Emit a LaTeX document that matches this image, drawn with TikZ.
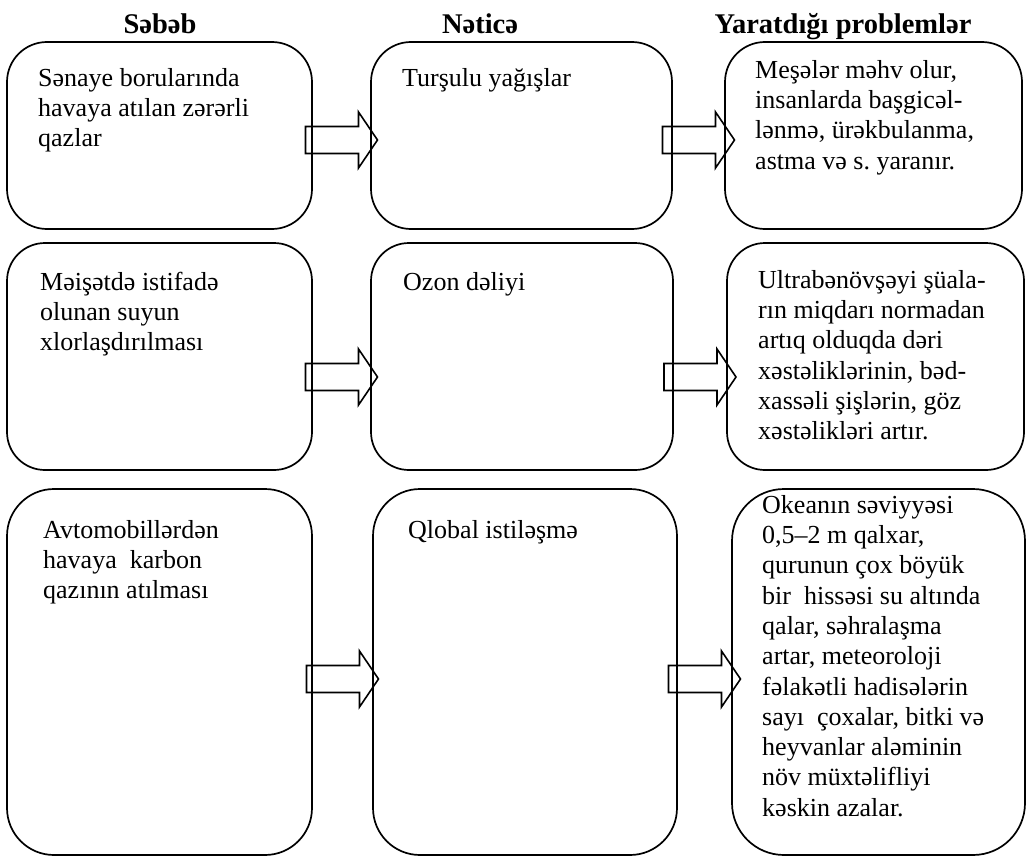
\documentclass[tikz,border=0pt]{standalone}
\usepackage{fontspec}
\setmainfont{Liberation Serif}
\usetikzlibrary{calc}
\frenchspacing
\newcommand\blockarrow[3]{%
  \draw[barrow] let \p1=(#1.east), \p2=(#2.west), \n1={(\x1+\x2)/2}, \n2={-#3pt} in
   (\n1-36pt,\n2+13.5pt) -- (\n1+17pt,\n2+13.5pt) -- (\n1+17pt,\n2+28pt) -- (\n1+36pt,\n2)
   -- (\n1+17pt,\n2-28pt) -- (\n1+17pt,\n2-13.5pt) -- (\n1-36pt,\n2-13.5pt) -- cycle;}
\begin{document}
\begin{tikzpicture}[x=1pt,y=-1pt,
  box/.style={draw, line width=1.7pt, rounded corners=#1, inner sep=0pt},
  barrow/.style={draw, line width=1.6pt, line join=miter},
  txt/.style={anchor=north west, inner sep=0pt, align=left, font=\fontsize{26pt}{30.3pt}\selectfont\frenchspacing},
  hdr/.style={anchor=base, inner sep=0pt, font=\fontsize{28.5pt}{32pt}\selectfont\bfseries}]
\useasboundingbox (0,0) rectangle (1027,856);
% headers
\node[hdr] (h1) at (160,34) {Səbəb};
\node[hdr] (h2) at (480,34) {Nəticə};
\node[hdr] (h3) at (843,34) {Yaratdığı problemlər};
% boxes row 1
\node[box=40pt, minimum width=305pt, minimum height=187pt] (b11) at (159.5,135.5) {};
\node[box=40pt, minimum width=301pt, minimum height=187pt] (b12) at (521.5,135.5) {};
\node[box=40pt, minimum width=297pt, minimum height=187pt] (b13) at (873.5,135.5) {};
% boxes row 2
\node[box=38pt, minimum width=305pt, minimum height=227pt] (b21) at (159.5,356.5) {};
\node[box=38pt, minimum width=302pt, minimum height=227pt] (b22) at (522,356.5) {};
\node[box=38pt, minimum width=297pt, minimum height=227pt] (b23) at (875.5,356.5) {};
% boxes row 3
\node[box=47pt, minimum width=305pt, minimum height=366pt] (b31) at (159.5,672) {};
\node[box=47pt, minimum width=304pt, minimum height=366pt] (b32) at (525,672) {};
\node[box=52pt, minimum width=293pt, minimum height=366pt] (b33) at (878.5,672) {};
% texts
\node[txt] (t11) at (38,64.8) {\strut Sənaye borularında\\havaya atılan zərərli\\qazlar};
\node[txt] (t12) at (402,64.8) {\strut Turşulu yağışlar};
\node[txt] (t13) at (755,56.8) {\strut Meşələr məhv olur,\\insanlarda başgicəl-\\lənmə, ürəkbulanma,\\astma və s. yaranır.};
\node[txt] (t21) at (40,268.8) {\strut Məişətdə istifadə\\olunan suyun\\xlorlaşdırılması};
\node[txt] (t22) at (403,268.8) {\strut Ozon dəliyi};
\node[txt] (t23) at (758,266.8) {\strut Ultrabənövşəyi şüala-\\rın miqdarı normadan\\artıq olduqda dəri\\xəstəliklərinin, bəd-\\xassəli şişlərin, göz\\xəstəlikləri artır.};
\node[txt] (t31) at (43,516.8) {\strut Avtomobillərdən\\havaya\ \ karbon\\qazının atılması};
\node[txt] (t32) at (408,516.8) {\strut Qlobal istiləşmə};
\node[txt] (t33) at (762,491.8) {\strut Okeanın səviyyəsi\\0,5–2 m qalxar,\\qurunun çox böyük\\bir\ \ hissəsi su altında\\qalar, səhralaşma\\artar, meteoroloji\\fəlakətli hadisələrin\\sayı\ \ çoxalar, bitki və\\heyvanlar aləminin\\növ müxtəlifliyi\\kəskin azalar.};
% arrows
\blockarrow{b11}{b12}{140}
\blockarrow{b12}{b13}{140}
\blockarrow{b21}{b22}{377}
\blockarrow{b22}{b23}{377}
\blockarrow{b31}{b32}{679}
\blockarrow{b32}{b33}{679}
\end{tikzpicture}
\end{document}
